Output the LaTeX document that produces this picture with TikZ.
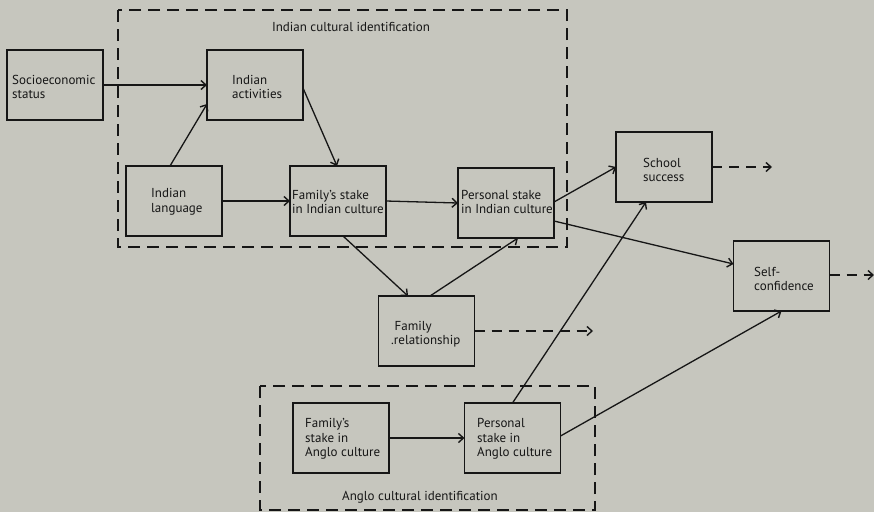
\documentclass[tikz,border=0pt]{standalone}
\usepackage{fontspec}
\setmainfont{PT Sans}
\usetikzlibrary{arrows.meta}
\definecolor{paper}{RGB}{198,198,190}
\definecolor{ink}{RGB}{22,22,22}
\begin{document}
\begin{tikzpicture}[x=1pt,y=-1pt,
  box/.style={draw=ink,line width=1.4pt,rectangle,minimum width=96pt,minimum height=70pt,inner sep=0pt,outer sep=0pt},
  txt/.style={anchor=west,inner sep=0pt,align=left,text=ink,font=\fontsize{13}{14.5}\selectfont},
  lbl/.style={inner sep=0pt,text=ink,font=\fontsize{13}{14.5}\selectfont},
  link/.style={draw=ink,line width=1.3pt,-{Straight Barb[length=5pt,width=9pt,line width=1.4pt]}},
  further/.style={link,dash pattern=on 10pt off 7pt},
  groupbox/.style={draw=ink,line width=1.4pt,dash pattern=on 12pt off 7pt}]
\useasboundingbox (0,0) rectangle (874,512);
\fill[paper] (0,0) rectangle (874,512);

% cultural identification groups
\draw[groupbox] (118,10) rectangle (567,247);
\node[lbl] (indlbl) at (351,27) {Indian cultural identification};
\draw[groupbox] (260,386) rectangle (595,510);
\node[lbl] (anglbl) at (420,497) {Anglo cultural identification};

% variable boxes
\node[box] (soc) at (55,85) {};
\node[txt] at (12,87) {Socioeconomic\\status};
\node[box] (act) at (255,85) {};
\node[txt] at (232,87) {Indian\\activities};
\node[box] (lang) at (174,201) {};
\node[txt] at (151,202) {Indian\\language};
\node[box] (fam) at (338,201) {};
\node[txt] at (292,202) {Family's stake\\in Indian culture};
\node[box] (pers) at (506,203) {};
\node[txt] at (461,202) {Personal stake\\in Indian culture};
\node[box] (school) at (664,167) {};
\node[txt] at (643,170) {School\\success};
\node[box] (self) at (781.5,276) {};
\node[txt] at (754,279) {Self-\\confidence};
\node[box] (rel) at (426.5,331) {};
\node[txt] at (391,334) {\ Family\\.relationship};
\node[box] (famA) at (341,438) {};
\node[txt] at (305,439) {Family's\\stake in\\Anglo culture};
\node[box] (persA) at (512.5,438) {};
\node[txt] at (477,439) {Personal\\stake in\\Anglo culture};

% loose ends of the outgoing dashed paths
\coordinate (schoolout) at (772,167);
\coordinate (relout) at (593,331);
\coordinate (selfout) at (874,275);

% paths
\draw[link] (soc.east) -- (act.west);
\draw[link] ([xshift=-4pt]lang.north) -- ([yshift=-19pt]act.west);
\draw[link] ([yshift=-3pt]act.east) -- ([xshift=-1pt]fam.north);
\draw[link] (lang.east) -- (fam.west);
\draw[link] (fam.east) -- (pers.west);
\draw[link] ([xshift=5pt]fam.south) -- ([xshift=-18.5pt]rel.north);
\draw[link] ([xshift=3.5pt]rel.north) -- ([xshift=12pt]pers.south);
\draw[link] ([yshift=1pt]pers.east) -- (school.west);
\draw[link] ([yshift=-18pt]pers.east) -- ([yshift=12pt]self.west);
\draw[link] (persA.north) -- ([xshift=-18pt]school.south);
\draw[link] ([yshift=2pt]persA.east) -- (self.south);
\draw[link] (famA.east) -- (persA.west);
\draw[further] (school.east) -- (schoolout);
\draw[further] (rel.east) -- (relout);
\draw[further] ([yshift=1pt]self.east) -- (selfout);
\end{tikzpicture}
\end{document}
